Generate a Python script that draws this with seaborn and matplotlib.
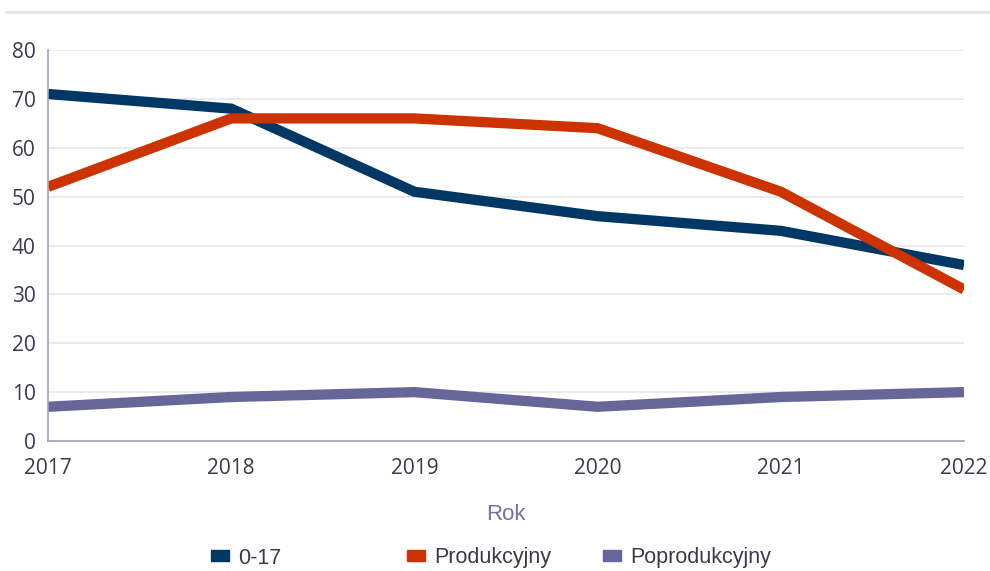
import matplotlib
matplotlib.use("Agg")
import matplotlib.pyplot as plt
import seaborn as sns
import pandas as pd
from matplotlib.patches import Patch
from matplotlib.lines import Line2D

years = [2017, 2018, 2019, 2020, 2021, 2022]
s_0_17 = [71, 68, 51, 46, 43, 36]
s_prod = [52, 66, 66, 64, 51, 31]
s_poprod = [7, 9, 10, 7, 9, 10]
series_names = ["0-17", "Produkcyjny", "Poprodukcyjny"]
colors = ["#003865", "#cc3300", "#666699"]
y_ticks = [0, 10, 20, 30, 40, 50, 60, 70, 80]
x_label = "Rok"

df = pd.DataFrame({
    "Rok": years * 3,
    "value": s_0_17 + s_prod + s_poprod,
    "series": [series_names[0]] * 6 + [series_names[1]] * 6 + [series_names[2]] * 6,
})

sns.set_theme(style="white")
plt.rcParams['font.family'] = ['Open Sans', 'DejaVu Sans']

fig = plt.figure(figsize=(9.9, 5.71), dpi=100)
ax = fig.add_axes([48/990, 1-441/571, (964-48)/990, (441-50)/571])

sns.lineplot(data=df, x="Rok", y="value", hue="series", palette=colors,
             hue_order=series_names, linewidth=7.4, ax=ax, legend=False,
             solid_capstyle="butt", solid_joinstyle="miter")

ax.set_xlim(2017, 2022)
ax.set_ylim(0, 80)
ax.set_yticks(y_ticks)
ax.set_xticks(years)
ax.grid(axis="y", color="#e6e6ee", linewidth=1.2)
ax.set_axisbelow(True)
for sp in ["top", "right"]:
    ax.spines[sp].set_visible(False)
for sp in ["left", "bottom"]:
    ax.spines[sp].set_color("#a0a0c0")
    ax.spines[sp].set_linewidth(1.2)
ax.tick_params(axis="both", length=0, labelsize=15, colors="#3a3a4c")
ax.tick_params(axis="y", pad=9)
ax.tick_params(axis="x", pad=12)
ax.set_ylabel("")
ax.set_xlabel(x_label, fontsize=16, color="#7373a3", labelpad=18,
              family=["Liberation Sans", "DejaVu Sans"])

# separator line under (cropped) title
fig.add_artist(Line2D([6/990, 1], [1-12/571, 1-12/571], color="#e6e6ee", linewidth=2.2))

xs = [211, 407, 603]
for name, c, x in zip(series_names, colors, xs):
    h = Patch(facecolor=c, edgecolor=c, label=name)
    leg = fig.legend(handles=[h], loc="center left", bbox_to_anchor=(x/990, 1-558/571),
                     frameon=False, handlelength=0.85, handleheight=0.42, handletextpad=0.4,
                     borderaxespad=0, borderpad=0,
                     prop={"family": ["Liberation Sans", "DejaVu Sans"], "size": 15.5})
    for t in leg.get_texts():
        t.set_color("#3a3a4c")

fig.savefig("out.png", dpi=100)
